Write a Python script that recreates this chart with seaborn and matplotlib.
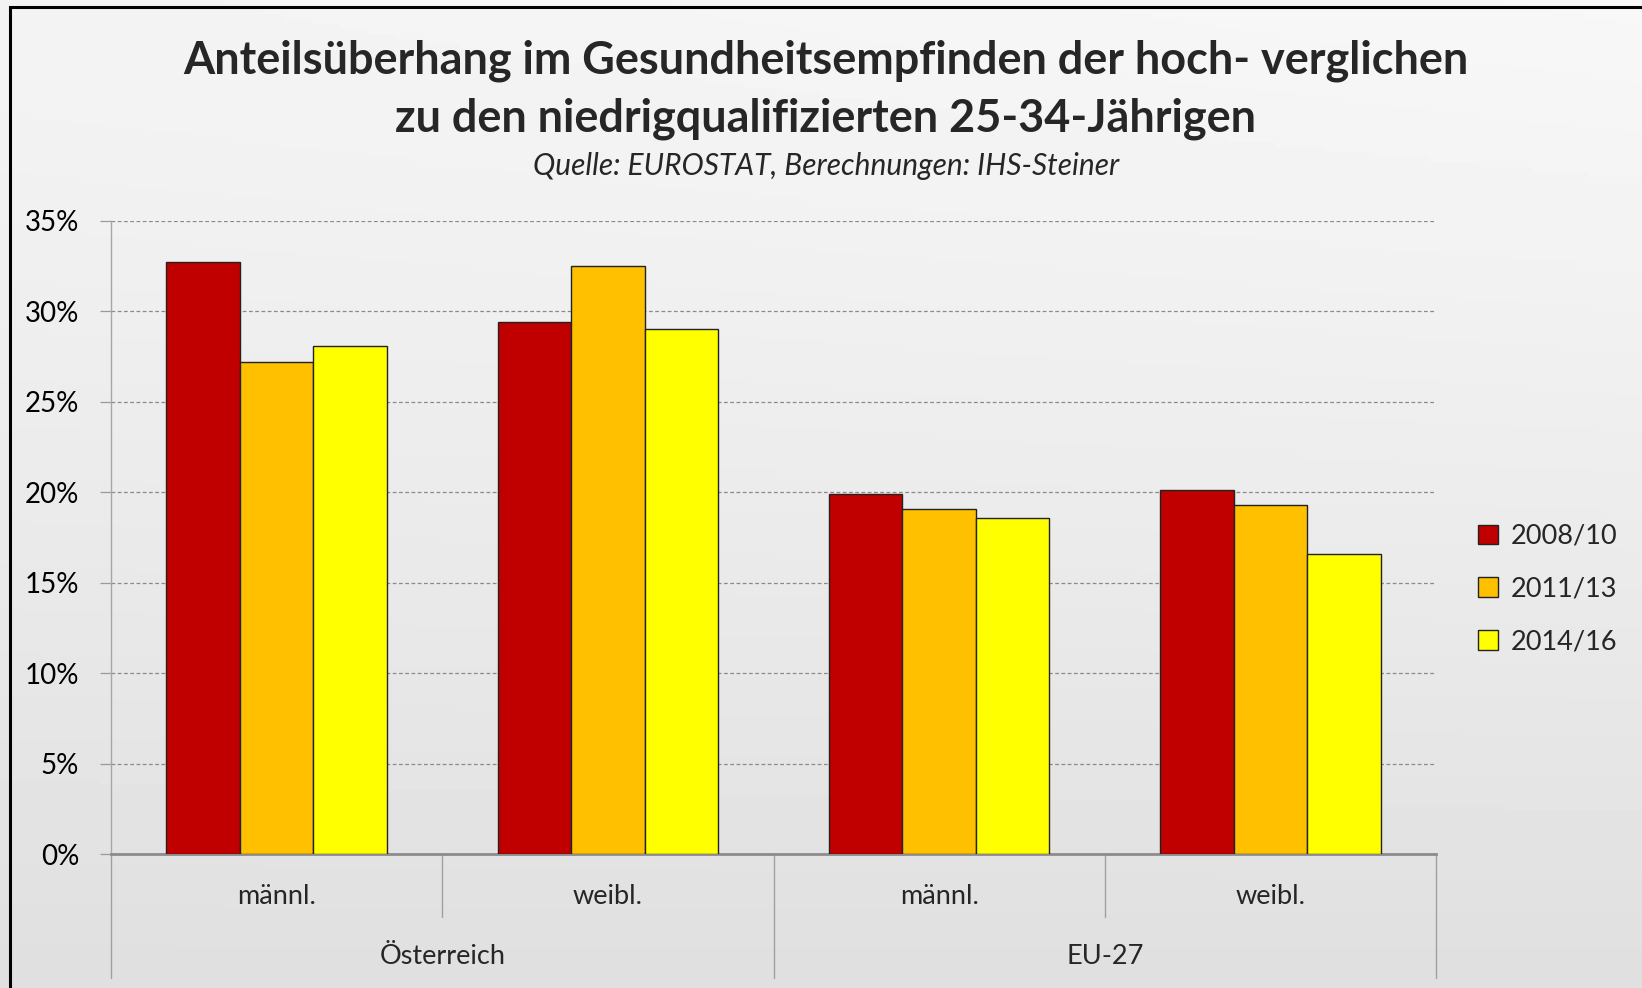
import matplotlib.pyplot as plt
import numpy as np
import pandas as pd
import seaborn as sns
from matplotlib.patches import Rectangle
from matplotlib.ticker import FuncFormatter

# Daten (Anteilsüberhang in %)
regionen = ["Österreich", "Österreich", "EU-27", "EU-27"]
geschlecht = ["männl.", "weibl.", "männl.", "weibl."]
perioden = ["2008/10", "2011/13", "2014/16"]
werte_2008 = [32.7, 29.4, 19.9, 20.1]
werte_2011 = [27.2, 32.5, 19.1, 19.3]
werte_2014 = [28.1, 29.0, 18.6, 16.6]
farben = ["#C00000", "#FFC000", "#FFFF00"]

titel = "Anteilsüberhang im Gesundheitsempfinden der hoch- verglichen"
titel2 = "zu den niedrigqualifizierten 25-34-Jährigen"
quelle = "Quelle: EUROSTAT, Berechnungen: IHS-Steiner"


def main():
    sns.set_theme(style="white")
    plt.rcParams["font.family"] = ["Lato", "DejaVu Sans"]

    schluessel = [f"{r}|{g}" for r, g in zip(regionen, geschlecht)]
    df = pd.DataFrame({
        "kategorie": schluessel * 3,
        "periode": np.repeat(perioden, len(schluessel)),
        "wert": werte_2008 + werte_2011 + werte_2014,
    })

    W, H = 1642, 988
    fig = plt.figure(figsize=(W / 100, H / 100), dpi=100)

    # Hintergrund: heller Grauverlauf
    bg = fig.add_axes([0, 0, 1, 1], zorder=-5)
    bg.axis("off")
    yy, xx = np.mgrid[0:1:200j, 0:1:300j]
    grau = 0.955 - 0.08 * yy ** 1.2 + 0.015 * xx * (1 - yy)
    bg.imshow(grau, cmap="gray", vmin=0, vmax=1, extent=[0, 1, 0, 1],
              aspect="auto", origin="upper")
    bg.set_xlim(0, 1)
    bg.set_ylim(0, 1)

    # Rahmen
    fig.add_artist(Rectangle((10 / W, -0.05), 1.2, 1 - 7 / H + 0.05,
                             transform=fig.transFigure, fill=False,
                             ec="black", lw=2.2))

    x0, x1 = 111, 1436
    ytop, ybot = 220.7, 854.3
    ax = fig.add_axes([x0 / W, 1 - ybot / H, (x1 - x0) / W, (ybot - ytop) / H])
    ax.set_facecolor("none")

    sns.barplot(data=df, x="kategorie", y="wert", hue="periode",
                palette=farben, saturation=1, width=0.665, gap=0,
                edgecolor="#222222", linewidth=1.0, ax=ax, zorder=3)

    ax.set_xlim(-0.5, 3.5)
    ax.set_ylim(0, 35)
    ax.set_yticks(np.arange(0, 36, 5))
    ax.yaxis.set_major_formatter(FuncFormatter(lambda v, p: f"{v:.0f}%"))
    ax.grid(axis="y", color="#8a8a8a", linestyle=(0, (3, 2)), linewidth=0.9, zorder=0)
    ax.set_axisbelow(True)
    ax.set_xticks([])
    ax.set_xlabel("")
    ax.set_ylabel("")
    ax.tick_params(axis="y", length=8, width=0.9, color="#9a9a9a", pad=15,
                   labelsize=20, labelcolor="black", left=True)
    for s in ["top", "right"]:
        ax.spines[s].set_visible(False)
    ax.spines["left"].set_color("#a6a6a6")
    ax.spines["left"].set_linewidth(1.0)
    ax.spines["bottom"].set_color("#8c8c8c")
    ax.spines["bottom"].set_linewidth(2.0)

    # mehrstufige Kategorienachse
    trans = ax.get_xaxis_transform()
    tief_innen = -(917 - ybot) / (ybot - ytop)
    tief_aussen = -(978 - ybot) / (ybot - ytop)
    for xp in [-0.5, 1.5, 3.5]:
        ax.plot([xp, xp], [0, tief_aussen], transform=trans, color="#a0a0a0",
                lw=1.0, clip_on=False)
    for xp in [0.5, 2.5]:
        ax.plot([xp, xp], [0, tief_innen], transform=trans, color="#a0a0a0",
                lw=1.0, clip_on=False)
    for i, g in enumerate(geschlecht):
        ax.text(i, -(896 - ybot) / (ybot - ytop), g, transform=trans,
                ha="center", va="center", fontsize=19.5)
    for i in range(0, len(regionen), 2):
        ax.text(i + 0.5, -(957 - ybot) / (ybot - ytop), regionen[i],
                transform=trans, ha="center", va="center", fontsize=19.5)

    # Legende
    handles, labels = ax.get_legend_handles_labels()
    ax.legend_.remove()
    fig.legend(handles, labels, loc="center left",
               bbox_to_anchor=(1478 / W, 1 - 589 / H), frameon=False,
               fontsize=19.5, handlelength=0.75, handleheight=0.75,
               handletextpad=0.45, labelspacing=1.02, borderpad=0,
               borderaxespad=0)

    # Titel
    fig.text(0.503, 1 - 74 / H, titel, ha="center", va="baseline",
             fontsize=32.4, fontweight="bold")
    fig.text(0.503, 1 - 131 / H, titel2, ha="center", va="baseline",
             fontsize=32.4, fontweight="bold")
    fig.text(0.503, 1 - 175 / H, quelle, ha="center", va="baseline",
             fontsize=21.5, style="italic")

    fig.savefig("out.png", dpi=100)


if __name__ == "__main__":
    main()
